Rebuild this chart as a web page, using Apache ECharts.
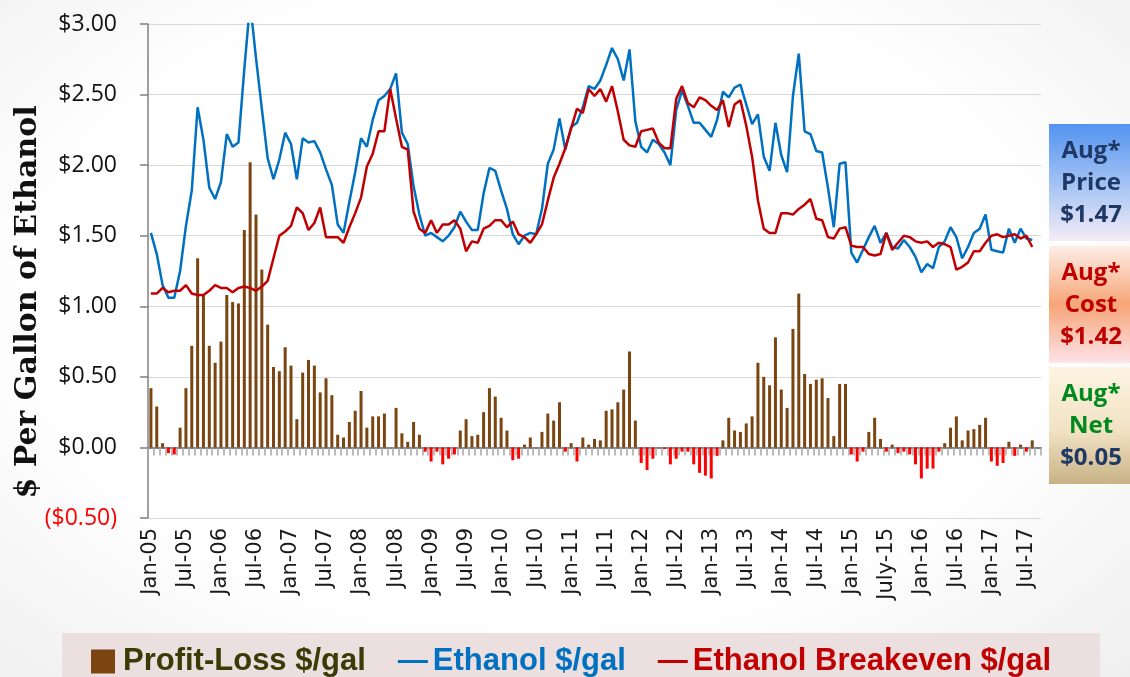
<!DOCTYPE html>
<html>
<head>
<meta charset="utf-8">
<title>Ethanol Profit-Loss</title>
<script src="https://cdn.jsdelivr.net/npm/echarts@6/dist/echarts.min.js"></script>
<style>
  html, body { margin: 0; padding: 0; width: 1130px; height: 677px; overflow: hidden; }
  body { background: radial-gradient(ellipse 80% 85% at 48% 45%, #ffffff 55%, #ebebeb 100%); }
  #chart { width: 1130px; height: 677px; }
</style>
</head>
<body>
<div id="chart"></div>
<script>
// monthly, Jan-05 .. Aug-17 (one empty slot after the last month)
const monthNames = ['Jan', 'Feb', 'Mar', 'Apr', 'May', 'Jun', 'Jul', 'Aug', 'Sep', 'Oct', 'Nov', 'Dec'];
const categories = [];
for (let i = 0; i < 153; i++) {
  const yy = String((2005 + Math.floor(i / 12)) % 100).padStart(2, '0');
  categories.push(monthNames[i % 12] + '-' + yy);
}
categories[126] = 'July-15';

// Ethanol price $/gal
const ethanol = [
  1.52, 1.37, 1.15, 1.06, 1.06, 1.25, 1.57, 1.82, 2.41, 2.18, 1.84, 1.76,
  1.88, 2.22, 2.13, 2.16, 2.68, 3.15, 2.76, 2.40, 2.05, 1.90, 2.04, 2.23,
  2.15, 1.90, 2.19, 2.16, 2.17, 2.09, 1.97, 1.86, 1.58, 1.52, 1.74, 1.95,
  2.19, 2.13, 2.32, 2.46, 2.49, 2.54, 2.65, 2.23, 2.15, 1.85, 1.65, 1.50,
  1.52, 1.49, 1.46, 1.50, 1.56, 1.67, 1.60, 1.54, 1.54, 1.80, 1.98, 1.96,
  1.82, 1.69, 1.51, 1.44, 1.50, 1.52, 1.51, 1.69, 2.01, 2.11, 2.33, 2.11,
  2.27, 2.30, 2.41, 2.56, 2.54, 2.60, 2.71, 2.83, 2.75, 2.60, 2.82, 2.31,
  2.13, 2.09, 2.18, 2.15, 2.09, 2.00, 2.39, 2.53, 2.42, 2.30, 2.30, 2.25,
  2.20, 2.32, 2.52, 2.48, 2.55, 2.57, 2.43, 2.29, 2.36, 2.06, 1.96, 2.30,
  2.07, 1.95, 2.49, 2.79, 2.24, 2.22, 2.10, 2.09, 1.84, 1.56, 2.01, 2.02,
  1.38, 1.31, 1.40, 1.49, 1.57, 1.45, 1.52, 1.42, 1.41, 1.47, 1.42, 1.35,
  1.24, 1.30, 1.27, 1.42, 1.46, 1.56, 1.49, 1.34, 1.42, 1.52, 1.55, 1.65,
  1.40, 1.39, 1.38, 1.55, 1.45, 1.55, 1.48, 1.47
];

// Breakeven cost $/gal
const breakeven = [
  1.09, 1.09, 1.13, 1.10, 1.11, 1.11, 1.15, 1.09, 1.08, 1.08, 1.11, 1.15,
  1.13, 1.13, 1.10, 1.13, 1.14, 1.13, 1.11, 1.14, 1.18, 1.34, 1.50, 1.53,
  1.57, 1.70, 1.66, 1.54, 1.59, 1.70, 1.49, 1.49, 1.49, 1.45, 1.56, 1.66,
  1.77, 1.99, 2.08, 2.24, 2.24, 2.54, 2.33, 2.13, 2.11, 1.67, 1.55, 1.52,
  1.61, 1.52, 1.58, 1.58, 1.61, 1.55, 1.39, 1.46, 1.45, 1.55, 1.57, 1.61,
  1.61, 1.56, 1.60, 1.51, 1.49, 1.45, 1.51, 1.58, 1.75, 1.91, 2.01, 2.12,
  2.26, 2.40, 2.37, 2.54, 2.49, 2.54, 2.45, 2.56, 2.38, 2.18, 2.14, 2.13,
  2.24, 2.25, 2.26, 2.16, 2.12, 2.12, 2.47, 2.56, 2.44, 2.41, 2.48, 2.46,
  2.42, 2.39, 2.46, 2.27, 2.43, 2.46, 2.28, 2.06, 1.75, 1.55, 1.52, 1.52,
  1.66, 1.66, 1.65, 1.69, 1.72, 1.76, 1.62, 1.61, 1.49, 1.48, 1.55, 1.56,
  1.43, 1.42, 1.42, 1.37, 1.36, 1.37, 1.52, 1.40, 1.45, 1.50, 1.49, 1.46,
  1.45, 1.46, 1.42, 1.45, 1.44, 1.42, 1.26, 1.28, 1.31, 1.39, 1.39, 1.45,
  1.50, 1.51, 1.49, 1.50, 1.51, 1.48, 1.50, 1.42
];

// Profit-Loss $/gal
const profit = [
  0.42, 0.29, 0.03, -0.04, -0.05, 0.14, 0.42, 0.72, 1.34, 1.08, 0.72, 0.60,
  0.75, 1.08, 1.03, 1.02, 1.54, 2.02, 1.65, 1.26, 0.87, 0.57, 0.54, 0.71,
  0.58, 0.20, 0.53, 0.62, 0.58, 0.39, 0.49, 0.37, 0.09, 0.07, 0.18, 0.26,
  0.40, 0.14, 0.22, 0.22, 0.24, 0.00, 0.28, 0.10, 0.04, 0.18, 0.09, -0.03,
  -0.10, -0.03, -0.12, -0.08, -0.05, 0.12, 0.20, 0.08, 0.09, 0.25, 0.42, 0.36,
  0.21, 0.12, -0.09, -0.08, 0.02, 0.07, 0.00, 0.11, 0.24, 0.19, 0.32, -0.03,
  0.03, -0.10, 0.07, 0.02, 0.06, 0.05, 0.26, 0.27, 0.32, 0.41, 0.68, 0.19,
  -0.11, -0.16, -0.08, 0.00, -0.01, -0.12, -0.08, -0.03, -0.03, -0.12, -0.18, -0.20,
  -0.22, -0.06, 0.05, 0.21, 0.12, 0.11, 0.17, 0.22, 0.60, 0.50, 0.44, 0.78,
  0.41, 0.28, 0.84, 1.09, 0.52, 0.45, 0.48, 0.49, 0.35, 0.08, 0.45, 0.45,
  -0.05, -0.10, -0.03, 0.11, 0.21, 0.06, -0.03, 0.02, -0.04, -0.03, -0.05, -0.12,
  -0.22, -0.15, -0.15, -0.03, 0.03, 0.14, 0.22, 0.05, 0.12, 0.13, 0.16, 0.21,
  -0.10, -0.13, -0.11, 0.04, -0.06, 0.02, -0.03, 0.05
];

const BROWN = '#7b4511';
const NEG_RED = '#ff0000';
const BLUE = '#0070c0';
const RED = '#c00000';

const chart = echarts.init(document.getElementById('chart'));

const fmtMoney = v => v < 0 ? '{neg|($' + Math.abs(v).toFixed(2) + ')}' : '$' + v.toFixed(2);

// side panels with the latest month
function panel(top, h, stops, lines) {
  return {
    type: 'group',
    left: 1049,
    top: top,
    children: [
      {
        type: 'rect',
        shape: { x: 0, y: 0, width: 81, height: h },
        style: { fill: new echarts.graphic.LinearGradient(0, 0, 0, 1, stops) }
      },
      {
        type: 'text',
        x: 42, y: h / 2 + 1,
        style: {
          text: lines.map(l => '{' + l[1] + '|' + l[0] + '}').join('\n'),
          align: 'center', verticalAlign: 'middle',
          rich: {
            navy: { fill: '#1f3864', fontSize: 24, fontWeight: 'bold', fontFamily: 'Open Sans', lineHeight: 32 },
            red: { fill: '#c00000', fontSize: 24, fontWeight: 'bold', fontFamily: 'Open Sans', lineHeight: 32 },
            green: { fill: '#008a1e', fontSize: 24, fontWeight: 'bold', fontFamily: 'Open Sans', lineHeight: 32 }
          }
        }
      }
    ]
  };
}

chart.setOption({
  animation: false,
  backgroundColor: 'transparent',
  grid: { left: 148, right: 89, top: 24, bottom: 159 },
  legend: {
    left: 86,
    top: 641,
    itemWidth: 30,
    itemHeight: 24,
    itemGap: 32,
    textStyle: { fontSize: 31, fontWeight: 'bold', fontFamily: 'Liberation Sans' },
    data: [
      { name: 'Profit-Loss $/gal', icon: 'path://M0,0H10V10H0Z', textStyle: { color: '#3d3a06' } },
      { name: 'Ethanol $/gal', icon: 'path://M0,0H30V3H0Z', textStyle: { color: BLUE } },
      { name: 'Ethanol Breakeven $/gal', icon: 'path://M0,0H30V3H0Z', textStyle: { color: RED } }
    ]
  },
  xAxis: [
    {
      type: 'category',
      data: categories,
      axisLine: { onZero: true, lineStyle: { color: '#808080', width: 2 } },
      axisTick: { show: true, interval: 0, length: 8, lineStyle: { color: '#a6a6a6', width: 1.5 } },
      axisLabel: { show: false },
      splitLine: { show: false }
    },
    {
      type: 'category',
      data: categories,
      position: 'bottom',
      axisLine: { show: false, onZero: false },
      axisTick: { show: false },
      axisLabel: {
        rotate: 90,
        interval: 5,
        margin: 10,
        fontSize: 21,
        fontFamily: 'DejaVu Sans',
        color: '#1a1a1a',
        padding: [5, 0, 0, 0]
      }
    }
  ],
  yAxis: {
    type: 'value',
    min: -0.5,
    max: 3,
    interval: 0.5,
    axisLine: { show: true, lineStyle: { color: '#808080', width: 1.5 } },
    axisTick: { show: true, length: 8, lineStyle: { color: '#808080', width: 1.5 } },
    axisLabel: {
      margin: 31,
      fontSize: 23,
      fontFamily: 'Open Sans',
      color: '#111',
      formatter: fmtMoney,
      rich: { neg: { color: '#ff0000', fontSize: 23, fontFamily: 'Open Sans' } }
    },
    splitLine: { lineStyle: { color: '#d9d9d9', width: 1 } }
  },
  graphic: [
    {
      type: 'rect',
      left: 62, top: 633,
      shape: { width: 1038, height: 44 },
      style: { fill: '#ebdfdf' },
      z: -1
    },
    {
      type: 'text',
      x: 28, y: 302,
      rotation: Math.PI / 2,
      style: {
        text: '$ Per Gallon of Ethanol',
        fill: '#111',
        font: 'bold 30px "DejaVu Serif"',
        align: 'center', verticalAlign: 'middle'
      }
    },
    panel(124, 117, [
      { offset: 0, color: '#5393f0' }, { offset: 0.55, color: '#a9c6f4' }, { offset: 1, color: '#f6ecf6' }
    ], [['Aug*', 'navy'], ['Price', 'navy'], ['$1.47', 'navy']]),
    panel(246, 117, [
      { offset: 0, color: '#fdeee6' }, { offset: 0.5, color: '#f6a577' }, { offset: 1, color: '#fde3ea' }
    ], [['Aug*', 'red'], ['Cost', 'red'], ['$1.42', 'red']]),
    panel(367, 117, [
      { offset: 0, color: '#fdf4e2' }, { offset: 0.55, color: '#f1e2c3' }, { offset: 1, color: '#c8b185' }
    ], [['Aug*', 'green'], ['Net', 'green'], ['$0.05', 'navy']])
  ],
  series: [
    {
      name: 'Profit-Loss $/gal',
      type: 'bar',
      barWidth: 3,
      itemStyle: { color: BROWN },
      data: profit.map(v => v < 0 ? { value: v, itemStyle: { color: NEG_RED } } : v)
    },
    {
      name: 'Ethanol $/gal',
      type: 'line',
      symbol: 'none',
      lineStyle: { color: BLUE, width: 2.5 },
      itemStyle: { color: BLUE },
      data: ethanol
    },
    {
      name: 'Ethanol Breakeven $/gal',
      type: 'line',
      symbol: 'none',
      lineStyle: { color: RED, width: 2.5 },
      itemStyle: { color: RED },
      data: breakeven
    }
  ]
});
</script>
</body>
</html>
